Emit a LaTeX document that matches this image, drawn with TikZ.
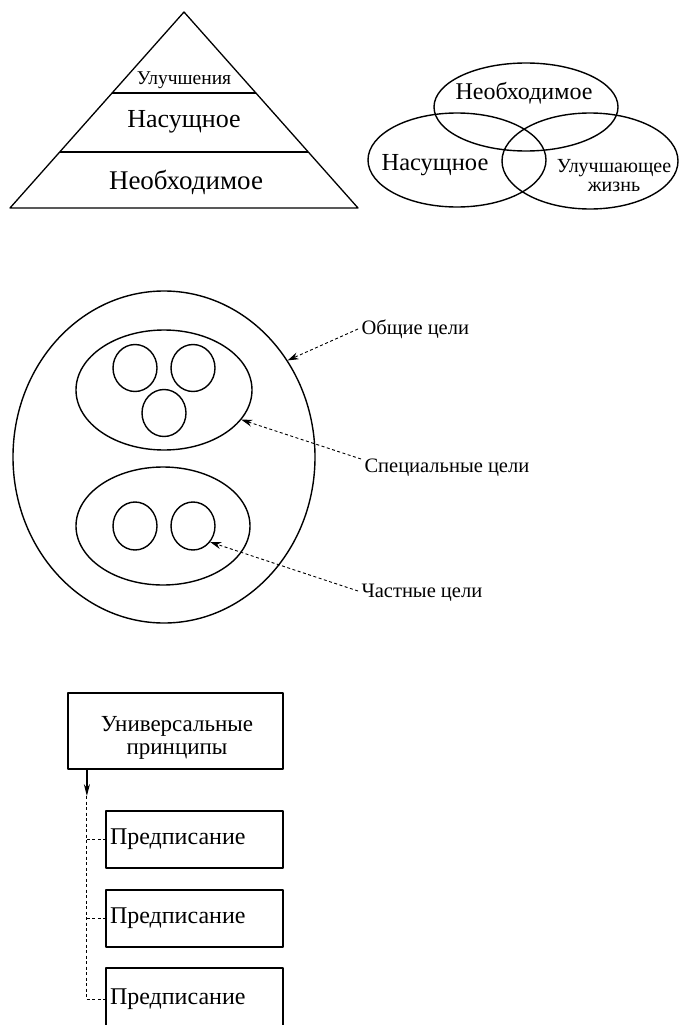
\documentclass[tikz,border=0pt]{standalone}
\usepackage{fontspec}
\setmainfont{Liberation Serif}
\usetikzlibrary{arrows.meta,shapes.geometric,calc}
\newcommand{\fsz}[1]{\fontsize{#1}{#1}\selectfont}
\begin{document}
\begin{tikzpicture}[x=1pt,y=-1pt,line join=round,
  thin line/.style={draw=black,line width=1.3pt},
  thick line/.style={draw=black,line width=2.2pt},
  oval/.style={ellipse,draw=black,line width=1.4pt,inner sep=0pt},
  callout/.style={draw=black,line width=0.9pt,dash pattern=on 3pt off 2.5pt,
    -{Stealth[length=11pt,width=7pt]}},
  label text/.style={font=\fsz{20.5},anchor=west},
  rulebox/.style={draw=black,line width=1.3pt,minimum width=177pt,
    text width=169pt,inner xsep=4pt,align=left,font=\fsz{24}},
  trunk/.style={draw=black,line width=0.9pt,dash pattern=on 3pt off 2.5pt}]
\useasboundingbox (0,0) rectangle (681,1025);
\fill[white] (0,0) rectangle (681,1025);
\clip (0,0) rectangle (681,1025);

% ---------- pyramid of needs ----------
\coordinate (apex) at (184,12);
\coordinate (bl) at (10,208);
\coordinate (br) at (358,208);
\draw[thin line] (apex) -- (br) -- (bl) -- cycle;
\draw[thick line] ($(apex)!0.413!(bl)$) -- ($(apex)!0.413!(br)$);
\draw[thick line] ($(apex)!0.714!(bl)$) -- ($(apex)!0.714!(br)$);
\node[font=\fsz{19.5}] (lvl3) at (184,80) {Улучшения};
\node[font=\fsz{26}] (lvl2) at (184,122) {Насущное};
\node[font=\fsz{27}] (lvl1) at (186,182) {Необходимое};

% ---------- overlapping sets ----------
\node[oval,minimum width=184pt,minimum height=88pt] (vtop) at (526,107) {};
\node[oval,minimum width=178pt,minimum height=94pt] (vleft) at (457,160) {};
\node[oval,minimum width=176pt,minimum height=96pt] (vright) at (590,161) {};
\node[font=\fsz{24}] (tneed) at (524,93) {Необходимое};
\node[font=\fsz{24.5}] (turg) at (435,165) {Насущное};
\node[font=\fsz{20},align=center,inner sep=0pt] (tbetter) at (614,176)
  {Улучшающее\\[-1pt]жизнь};

% ---------- nested goals ----------
\node[oval,minimum width=302pt,minimum height=332pt] (big) at (164,457) {};
\node[oval,minimum width=176pt,minimum height=120pt] (upper) at (164,390) {};
\node[oval,minimum width=174pt,minimum height=118pt] (lower) at (163,526) {};
\node[oval,minimum width=44pt,minimum height=47pt] (c1) at (135,368) {};
\node[oval,minimum width=44pt,minimum height=47pt] (c2) at (193,368) {};
\node[oval,minimum width=44pt,minimum height=47pt] (c3) at (164,413) {};
\node[oval,minimum width=44pt,minimum height=48pt] (c4) at (135,526) {};
\node[oval,minimum width=44pt,minimum height=48pt] (c5) at (193,526) {};

\node[label text] (lgen) at (358,329) {Общие цели};
\node[label text] (lspec) at (361,468) {Специальные цели};
\node[label text] (lpart) at (358,593) {Частные цели};
\draw[callout] (lgen.west) -- (big.38);
\draw[callout] ([yshift=9pt]lspec.west) -- (upper.-21);
\draw[callout] ([yshift=2pt]lpart.west) -- (c5.-43);

% ---------- principles and prescriptions ----------
\node[draw=black,line width=2.2pt,minimum width=215pt,minimum height=76pt]
  (univ) at (175.5,731) {};
\node[align=center,font=\fsz{23},inner sep=0pt] (univtext) at (177,738)
  {Универсальные\\принципы};
\node[rulebox,minimum height=57pt] (p1) at (194.5,839.5) {Предписание};
\node[rulebox,minimum height=57pt] (p2) at (194.5,918.5) {Предписание};
\node[rulebox,minimum height=62pt] (p3) at (194.5,999) {Предписание};

\coordinate (ttop) at ($(univ.south west)+(20,0)$);
\coordinate (tip) at ($(ttop)+(0,26)$);
\coordinate (tend) at (ttop |- p3.west);
\draw[draw=black,line width=1.2pt,-{Stealth[length=12pt,width=6pt]}] (ttop) -- (tip);
\draw[trunk] (tip) -- (tend);
\draw[trunk] (ttop |- p1.west) -- (p1.west);
\draw[trunk] (ttop |- p2.west) -- (p2.west);
\draw[trunk] (tend) -- (p3.west);
\end{tikzpicture}
\end{document}
